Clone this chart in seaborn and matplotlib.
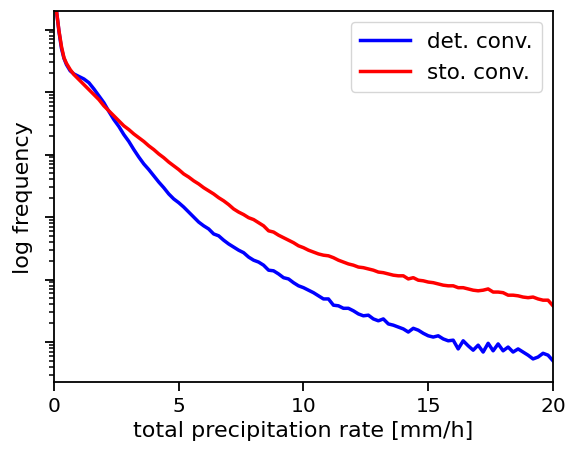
import numpy as np
import pandas as pd
import matplotlib
matplotlib.use("Agg")
import matplotlib.pyplot as plt
import seaborn as sns
from matplotlib.ticker import NullFormatter, LogLocator

# precipitation rate bins [mm/h]
rate = [0.02, 0.1, 0.2, 0.3, 0.4, 0.5, 0.65, 0.8,
        1.0, 1.2, 1.4, 1.6, 1.8, 2.0, 2.2, 2.4, 2.6, 2.8, 3.0, 3.2, 3.4, 3.6, 3.8,
        4.0, 4.2, 4.4, 4.6, 4.8, 5.0, 5.2, 5.4, 5.6, 5.8, 6.0, 6.2, 6.4, 6.6, 6.8,
        7.0, 7.2, 7.4, 7.6, 7.8, 8.0, 8.2, 8.4, 8.6, 8.8, 9.0, 9.2, 9.4, 9.6, 9.8,
        10.0, 10.2, 10.4, 10.6, 10.8, 11.0, 11.2, 11.4, 11.6, 11.8, 12.0, 12.2, 12.4,
        12.6, 12.8, 13.0, 13.2, 13.4, 13.6, 13.8, 14.0, 14.2, 14.4, 14.6, 14.8, 15.0,
        15.2, 15.4, 15.6, 15.8, 16.0, 16.2, 16.4, 16.6, 16.8, 17.0, 17.2, 17.4, 17.6,
        17.8, 18.0, 18.2, 18.4, 18.6, 18.8, 19.0, 19.2, 19.4, 19.6, 19.8, 20.0]

# log10 of frequency, deterministic convection
det_log10 = [-0.42, -0.70, -1.03, -1.30, -1.46, -1.56, -1.66, -1.71,
             -1.75, -1.79, -1.85, -1.95, -2.06, -2.17, -2.31, -2.44, -2.55, -2.68, -2.79, -2.92, -3.04, -3.15, -3.24,
             -3.34, -3.44, -3.53, -3.63, -3.71, -3.77, -3.84, -3.92, -4.00, -4.08, -4.14, -4.19, -4.27, -4.30, -4.37,
             -4.43, -4.48, -4.53, -4.57, -4.64, -4.69, -4.72, -4.77, -4.85, -4.86, -4.91, -4.97, -4.99, -5.05, -5.10,
             -5.13, -5.17, -5.21, -5.26, -5.31, -5.31, -5.41, -5.42, -5.46, -5.46, -5.50, -5.55, -5.58,
             -5.57, -5.63, -5.66, -5.63, -5.71, -5.73, -5.76, -5.79, -5.84, -5.78, -5.81, -5.86, -5.90,
             -5.92, -5.90, -5.95, -5.98, -5.97, -6.11, -5.98, -6.06, -6.13, -6.05, -6.16, -6.02, -6.14,
             -6.03, -6.14, -6.08, -6.16, -6.11, -6.16, -6.21, -6.27, -6.24, -6.18, -6.21, -6.30]

# log10 of frequency, stochastic convection
sto_log10 = [-0.42, -0.70, -1.02, -1.27, -1.45, -1.54, -1.64, -1.72,
             -1.80, -1.88, -1.96, -2.04, -2.12, -2.22, -2.30, -2.38, -2.46, -2.54, -2.60, -2.67, -2.73, -2.79, -2.86,
             -2.92, -2.99, -3.05, -3.12, -3.18, -3.24, -3.31, -3.36, -3.42, -3.47, -3.53, -3.58, -3.63, -3.69, -3.74,
             -3.80, -3.87, -3.92, -3.96, -4.01, -4.04, -4.09, -4.14, -4.22, -4.24, -4.29, -4.33, -4.37, -4.41, -4.46,
             -4.49, -4.53, -4.56, -4.59, -4.61, -4.62, -4.65, -4.69, -4.72, -4.75, -4.77, -4.80, -4.81,
             -4.83, -4.85, -4.88, -4.89, -4.91, -4.93, -4.94, -4.94, -4.99, -4.97, -5.01, -5.02, -5.04,
             -5.05, -5.07, -5.09, -5.10, -5.10, -5.13, -5.13, -5.15, -5.17, -5.18, -5.17, -5.15, -5.20,
             -5.20, -5.21, -5.25, -5.25, -5.26, -5.28, -5.29, -5.28, -5.31, -5.33, -5.33, -5.42]

labels = ["det. conv.", "sto. conv."]
colors = ["blue", "red"]

df = pd.concat([
    pd.DataFrame({"rate": rate, "freq": 10 ** np.array(det_log10), "run": labels[0]}),
    pd.DataFrame({"rate": rate, "freq": 10 ** np.array(sto_log10), "run": labels[1]}),
])

fig = plt.figure(figsize=(5.7, 4.56), dpi=100)
ax = fig.add_axes([0.0947, 0.160, 0.8755, 0.814])
sns.lineplot(data=df, x="rate", y="freq", hue="run", palette=colors,
             linewidth=2.5, ax=ax, sort=False)
ax.set_yscale("log")
ax.set_xlim(0, 20)
ax.set_ylim(10 ** -6.64, 10 ** -0.70)
ax.set_xticks([0, 5, 10, 15, 20])
ax.yaxis.set_major_locator(LogLocator(base=10, numticks=20))
ax.yaxis.set_minor_locator(LogLocator(base=10, subs=np.arange(2, 10), numticks=20))
ax.yaxis.set_major_formatter(NullFormatter())
ax.yaxis.set_minor_formatter(NullFormatter())
for s in ax.spines.values():
    s.set_linewidth(1.3)
ax.tick_params(axis="both", which="major", labelsize=14.5, length=6.5, width=1.3)
ax.tick_params(axis="both", which="minor", length=3.5, width=1.1)
ax.set_xlabel("total precipitation rate [mm/h]", fontsize=16)
ax.set_ylabel("log frequency", fontsize=16, labelpad=5)
ax.legend(loc="upper right", fontsize=15.5, handlelength=2.3, labelspacing=0.5,
          borderpad=0.45, handletextpad=0.8, borderaxespad=0.5)
fig.savefig("out.png", dpi=100)
